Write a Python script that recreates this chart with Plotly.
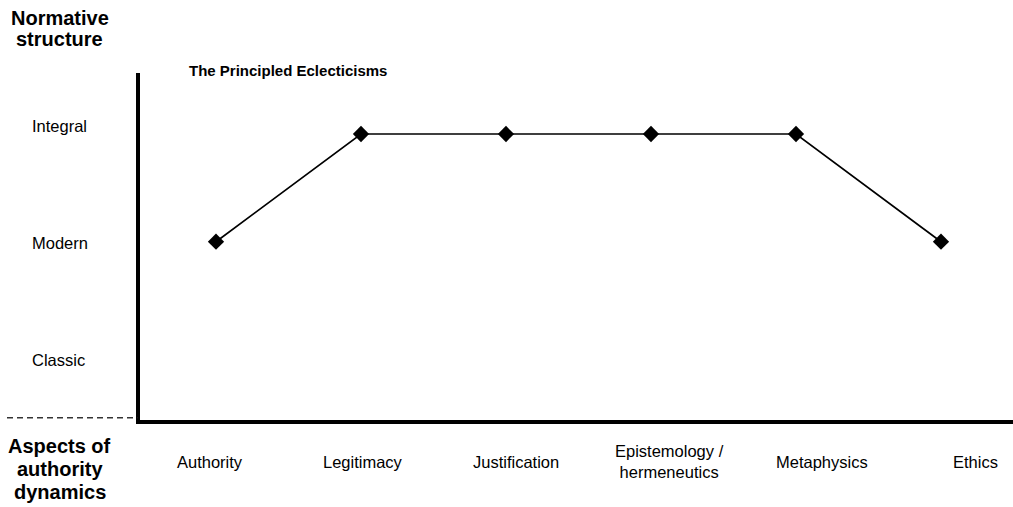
import plotly.graph_objects as go

# ---- data ----
aspects = ["Authority", "Legitimacy", "Justification", "Epistemology / hermeneutics", "Metaphysics", "Ethics"]
aspect_labels = ["Authority", "Legitimacy", "Justification", "Epistemology /<br>hermeneutics", "Metaphysics", "Ethics"]
levels = ["Classic", "Modern", "Integral"]
level_values = [1, 2, 3]
structure = [2, 3, 3, 3, 3, 2]   # Modern=2, Integral=3

title_text = "The Principled Eclecticisms"
y_title_lines = ["Normative", "structure"]
x_title_lines = ["Aspects of", "authority", "dynamics"]

FONT = "Arial, 'Liberation Sans', sans-serif"

fig = go.Figure()
fig.add_trace(go.Scatter(
    x=list(range(len(aspects))), y=structure,
    mode="lines+markers",
    line=dict(color="black", width=1.7),
    marker=dict(symbol="diamond", size=12.5, color="black"),
    hoverinfo="skip", showlegend=False,
))

annotations = []
# title
annotations.append(dict(text="<b>" + title_text + "</b>", xref="paper", yref="paper",
                        x=0.0538, y=1.0058, xanchor="left", yanchor="middle",
                        showarrow=False, font=dict(size=15, family=FONT, color="black")))
# top-left axis title
for ypos, line in zip([1.1585, 1.098], y_title_lines):
    annotations.append(dict(text="<b>" + line + "</b>", xref="paper", yref="paper",
                            x=-0.0922, y=ypos, xanchor="center", yanchor="middle",
                            showarrow=False, font=dict(size=20, family=FONT, color="black")))
# bottom-left axis title
for ypos, line in zip([-0.0749, -0.1412, -0.2075], x_title_lines):
    annotations.append(dict(text="<b>" + line + "</b>", xref="paper", yref="paper",
                            x=-0.0922, y=ypos, xanchor="center", yanchor="middle",
                            showarrow=False, font=dict(size=20, family=FONT, color="black")))
# y level labels
for v, lab in zip(level_values, levels):
    annotations.append(dict(text=lab, xref="paper", yref="y2", x=-0.126, y=v,
                            xanchor="left", yanchor="middle", showarrow=False,
                            font=dict(size=16.5, family=FONT, color="black")))
# x aspect labels
for i, lab in enumerate(aspect_labels):
    annotations.append(dict(text=lab, xref="x2", yref="paper", x=i, y=-0.121,
                            xanchor="center", yanchor="middle", showarrow=False,
                            font=dict(size=16.5, family=FONT, color="black")))

fig.update_layout(
    width=1013, height=507,
    margin=dict(l=140, r=0, t=73, b=87),
    paper_bgcolor="white", plot_bgcolor="white",
    font=dict(family=FONT, color="black"),
    xaxis=dict(range=[-0.5241, 5.4966], showgrid=False, zeroline=False,
               showticklabels=False, ticks="", showline=True,
               linecolor="black", linewidth=4),
    yaxis=dict(range=[0.3445, 3.5664], showgrid=False, zeroline=False,
               showticklabels=False, ticks="", showline=True,
               linecolor="black", linewidth=4),
    xaxis2=dict(overlaying="x", range=[-0.4566, 5.246], visible=False),
    yaxis2=dict(overlaying="y", range=[0.487, 3.4566], visible=False),
    annotations=annotations,
    shapes=[dict(type="line", xref="paper", yref="paper",
                 x0=(7 - 140) / 873, x1=-0.003, y0=0.0066, y1=0.0066,
                 line=dict(color="#333333", width=1.5, dash="6px,4px"))],
    hovermode=False,
)

fig.write_html(
    "out.html",
    config={"displayModeBar": False},
    post_script="document.body.style.margin='0';document.body.style.overflow='hidden';",
)
